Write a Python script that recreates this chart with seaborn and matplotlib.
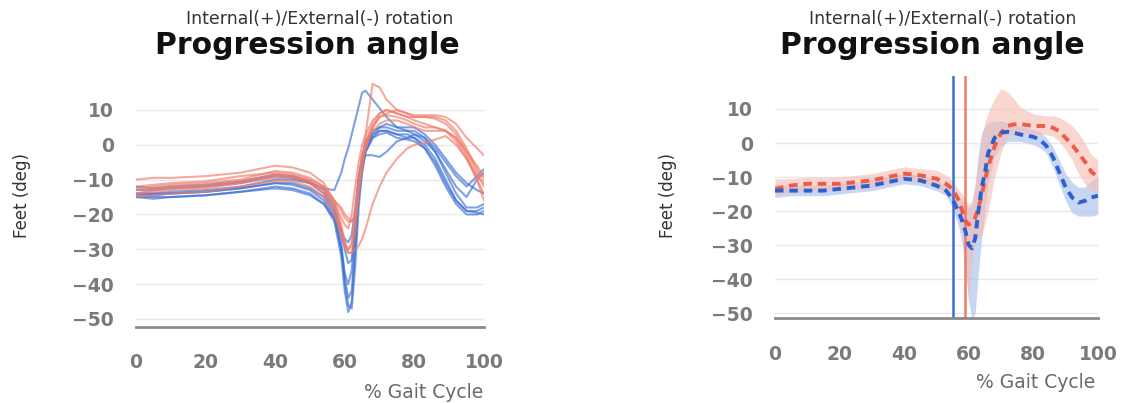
import numpy as np
import pandas as pd
import matplotlib
matplotlib.use("Agg")
import matplotlib.pyplot as plt
import seaborn as sns

sns.set_style("white")
plt.rcParams["font.family"] = ["DejaVu Sans"]

BLUE = "#3B6FD4"; RED = "#F07A68"
BLUE_D = "#2E5FCF"; RED_D = "#EE5B47"
BLUE_F = "#AFC5EE"; RED_F = "#F7BCB2"

# ---- individual trials (left panel) ----
XL = [0, 5, 10, 20, 30, 40, 45, 50, 54, 57, 59, 60, 61, 62, 63, 64, 65, 66,
      68, 70, 72, 75, 78, 80, 83, 86, 89, 92, 95, 98, 100]

blue_trials = [
    [-14, -14, -13.5, -13, -12, -10, -10, -11, -12.5, -13, -8, -4, -1, 3, 7, 11, 15, 15.5,
     13, 10.5, 8, 5, 4, 3, 1, -2, -7, -12, -15, -10, -8],
    [-15, -15.5, -15, -14.5, -13.5, -12, -12.5, -14, -17, -22, -32, -42, -48, -45, -30, -15, -7, -2,
     2, 4, 4, 3, 3, 2, -1, -6, -12, -17, -20, -20, -19],
    [-13, -13, -12.5, -12, -11, -9, -9.5, -11, -14, -19, -28, -38, -44, -42, -28, -14, -6, -1,
     3, 5, 5, 4, 4, 4, 2, -2, -8, -14, -18, -18, -17],
    [-14, -14, -14, -13.5, -12.5, -11, -11.5, -13, -16, -21, -30, -37, -40, -36, -22, -10, -5, -3,
     -3, -3.5, -2, 1, 2, 3, 2, -1, -5, -9, -12, -9, -7],
    [-15, -15, -15, -14.5, -13.5, -12.5, -13, -14.5, -17, -21, -25, -27, -28, -26, -18, -9, -3, 0,
     3, 4, 4, 3, 2, 2, 0, -4, -10, -16, -19, -19, -18],
    [-12, -12.5, -12, -11.5, -10.5, -8.5, -9, -10.5, -13, -18, -25, -30, -34, -33, -24, -12, -4, 1,
     4, 5, 6, 5, 5, 5, 3, 0, -4, -8, -11, -13, -14],
    [-14.5, -14.5, -14, -13.5, -12.5, -11, -11, -12.5, -15, -20, -30, -40, -46, -47, -35, -18, -8, -2,
     2, 3, 3.5, 2, 1.5, 1, -1, -5, -11, -16, -19, -19.5, -20],
]

red_trials = [
    [-12, -11.5, -11, -10.5, -9, -8, -8.5, -10, -12, -16, -19, -21, -22, -22, -20, -13, -6, 3,
     17.5, 16.5, 13, 10, 9, 8, 8, 8, 7, 4, -1, -7, -10],
    [-10, -9.5, -9.5, -9, -8, -6, -6.5, -8, -11, -16, -23, -28, -31, -31, -25, -14, -6, -1,
     5, 8, 9, 10, 9, 8.5, 8.5, 8.5, 8, 6, 2, -1, -3],
    [-14, -13.5, -13, -12.5, -11, -9.5, -9.5, -11, -14, -19, -26, -29, -31, -31, -30, -29, -27, -24,
     -17, -12, -8, -4, -1, 0, 0.5, 1.5, 2.5, 0, -4, -10, -14],
    [-13, -12.5, -12, -11.5, -10.5, -8.5, -9, -10.5, -13, -17, -21, -23, -24, -20, -12, -5, 0, 3,
     7, 9, 10, 9, 8, 7, 6, 5, 4, 1, -4, -9, -11],
    [-15, -14.5, -14, -13.5, -12, -10.5, -10.5, -12, -15, -20, -26, -29, -30, -28, -20, -10, -3, 0,
     4, 6, 7, 7, 6, 5, 4, 4, 4, 2, -3, -10, -16],
    [-14, -13, -12.5, -12, -10.5, -9, -9, -10.5, -13, -16, -18, -20, -21, -22, -20, -12, -5, 0,
     5, 8, 8.5, 8, 7, 6, 5, 5, 4, 2, -2, -6, -9],
    [-12.5, -12, -11.5, -11, -10, -7.5, -8, -9.5, -12, -17, -24, -28, -30, -29, -22, -12, -4, 1,
     6, 9, 10, 9, 8, 8, 8, 7.5, 6, 3, -2, -8, -12],
]

# ---- mean and band (right panel) ----
XR = [0, 5, 10, 15, 20, 25, 30, 35, 40, 45, 50, 53, 55, 57, 58, 59, 60, 61, 62, 63,
      64, 65, 66, 68, 70, 72, 74, 76, 78, 80, 82, 84, 86, 88, 90, 92, 94, 96, 98, 100]

red_mean = [-13.5, -12.5, -12, -12, -12, -11.5, -11, -10, -9, -9.5, -10.5, -12, -13.5, -17, -20, -23,
            -24, -23.5, -22, -19, -15.5, -11, -7, -1, 3, 5, 5.5, 5.6, 5.3, 5, 5, 5, 4.5, 3.5,
            1.5, -0.5, -3, -5.5, -8.5, -10]
red_lo = [-15.5, -14.5, -14, -14, -14, -13.5, -13, -12, -11, -11.5, -13, -14.5, -16.5, -21, -26, -36,
          -48, -35, -28, -28, -27, -24, -20, -10, -3, 2, 2.5, 3, 3, 2.5, 2.5, 2.5, 2, 0.5,
          -2, -5, -9, -12, -14, -14.5]
red_hi = [-10.5, -10.5, -10, -10, -10, -9.5, -9, -8, -7, -7.5, -8, -9.5, -11, -14, -15, -17,
          -18, -17, -12, -5, 2, 6, 9, 13, 16, 15, 13, 10.5, 9.5, 8.5, 8.2, 8, 8, 7.5,
          6.5, 5, 3, 0, -3.5, -5]

blue_mean = [-14, -14, -14, -14, -13.5, -13, -12.5, -11.5, -10.5, -11, -12.5, -14, -16.5, -20.5, -23, -26,
             -30, -31, -28, -20, -13, -9, -3, 1.5, 3, 3.3, 3, 2.5, 2.2, 1.8, 1, -0.8, -4, -8.5,
             -13, -16, -17.5, -17, -16, -15.5]
blue_lo = [-16, -15.5, -15.5, -15.5, -15, -14.5, -14, -13, -12, -12.5, -14, -15.5, -19, -25, -30, -38,
           -46, -52, -50, -38, -28, -20, -12, -4, -1, 0.5, 0.5, 0.5, 0, -0.5, -1.5, -3, -7, -12,
           -17, -20.5, -21.5, -21.5, -21.5, -21]
blue_hi = [-12, -12.5, -12.5, -12.5, -12, -11.5, -11, -10, -9, -9.5, -11, -12.5, -14, -16, -17, -18,
           -19, -18, -12, -3, 3, 5, 6, 6.5, 6.5, 6, 5.5, 5, 4.5, 4, 3.5, 1.5, -1, -5,
           -9, -11.5, -13, -13, -11, -10]

events = {"blue": 55, "red": 59}

# long tables for seaborn
rows = []
for side, trials in (("blue", blue_trials), ("red", red_trials)):
    for i, t in enumerate(trials):
        for x, y in zip(XL, t):
            rows.append((side, f"{side}{i}", x, y))
trials_df = pd.DataFrame(rows, columns=["side", "trial", "cycle", "angle"])

mean_df = pd.DataFrame({
    "cycle": XR + XR,
    "angle": red_mean + blue_mean,
    "side": ["red"] * len(XR) + ["blue"] * len(XR),
})

# ============================================================
# FIGURE
# ============================================================
fig = plt.figure(figsize=(11.21, 4.03), dpi=100)
ax1 = fig.add_axes([0.1213, 0.1886, 0.3104, 0.6328])
ax2 = fig.add_axes([0.6913, 0.2097, 0.2881, 0.6017])

sns.lineplot(data=trials_df, x="cycle", y="angle", hue="side", units="trial",
             estimator=None, palette={"blue": BLUE, "red": RED}, lw=1.5, alpha=0.65,
             legend=False, ax=ax1)

ax2.fill_between(XR, blue_lo, blue_hi, color=BLUE_F, alpha=0.7, lw=0)
ax2.fill_between(XR, red_lo, red_hi, color=RED_F, alpha=0.6, lw=0)
ax2.axvline(events["blue"], color=BLUE, lw=1.8)
ax2.axvline(events["red"], color=RED, lw=1.8)
sns.lineplot(data=mean_df, x="cycle", y="angle", hue="side",
             palette={"blue": BLUE_D, "red": RED_D}, lw=2.8, dashes=False,
             linestyle=(0, (2.2, 1.5)), legend=False, ax=ax2)

for ax, ylim in ((ax1, (-52.3, 20.9)), (ax2, (-51.6, 19.7))):
    ax.set_xlim(0, 100)
    ax.set_ylim(*ylim)
    ax.set_xticks([0, 20, 40, 60, 80, 100])
    ax.set_yticks([-50, -40, -30, -20, -10, 0, 10])
    ax.yaxis.grid(True, color="#e8e8e8", lw=1)
    ax.xaxis.grid(False)
    for s in ["top", "right", "left"]:
        ax.spines[s].set_visible(False)
    ax.spines["bottom"].set_color("#8a8a8a")
    ax.spines["bottom"].set_linewidth(2)
    ax.tick_params(axis="x", length=0, pad=19, labelsize=13.5, labelcolor="#7a7a7a")
    ax.tick_params(axis="y", length=0, pad=16, labelsize=13.5, labelcolor="#7a7a7a")
    for lab in ax.get_xticklabels() + ax.get_yticklabels():
        lab.set_fontweight("bold")
    ax.set_xlabel(""); ax.set_ylabel("")

# titles and axis labels
W, H = 1121, 403
for cx_sub, cx_title, ylab_x, xlab_r, xlab_y in ((320, 307, 22, 483, 392),
                                                 (943, 932, 668, 1095, 382)):
    fig.text(cx_sub / W, 1 - 19 / H, "Internal(+)/External(-) rotation",
             ha="center", va="center", fontsize=12.5, color="#333333")
    fig.text(cx_title / W, 1 - 45 / H, "Progression angle",
             ha="center", va="center", fontsize=21.5, fontweight="bold", color="#111111")
    fig.text(ylab_x / W, 1 - 195 / H, "Feet (deg)", rotation=90,
             ha="center", va="center", fontsize=12, color="#333333")
    fig.text(xlab_r / W, 1 - xlab_y / H, "% Gait Cycle",
             ha="right", va="center", fontsize=13.5, color="#6a6a6a")

fig.savefig("out.png", dpi=100)
